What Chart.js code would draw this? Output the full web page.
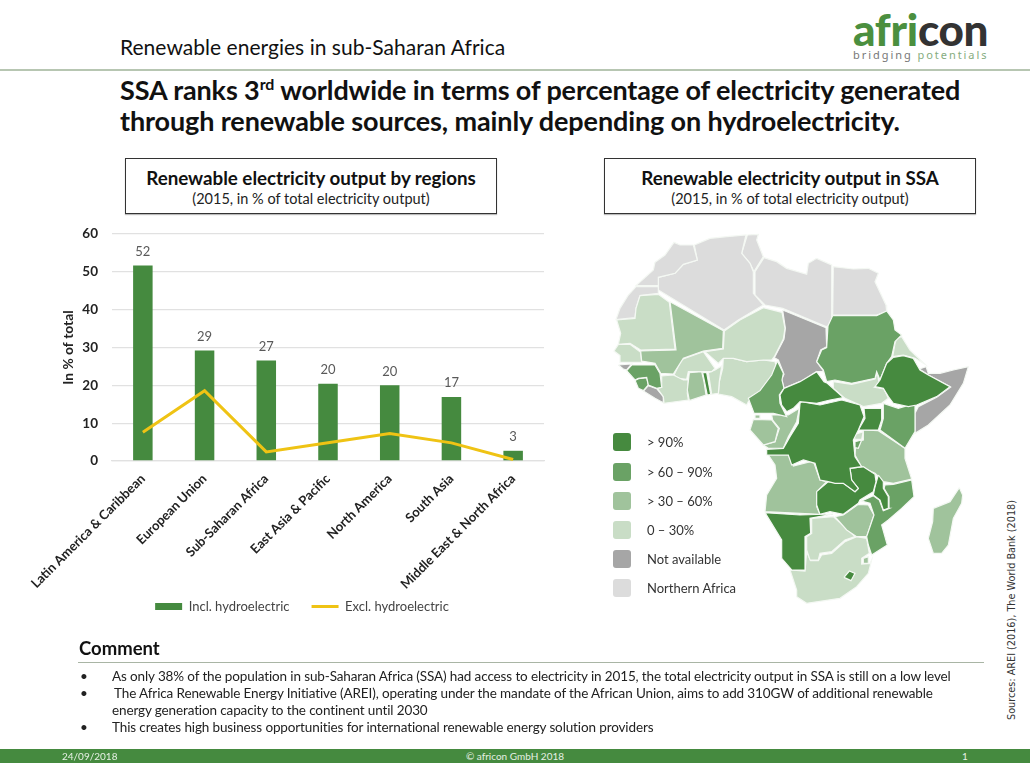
<!DOCTYPE html>
<html>
<head>
<meta charset="utf-8">
<title>Renewable energies in sub-Saharan Africa</title>
<script src="https://cdn.jsdelivr.net/npm/chart.js@4"></script>
<style>
  html, body { margin: 0; padding: 0; background: #fff; }
  body { width: 1030px; height: 773px; position: relative; overflow: hidden; font-family: Lato, sans-serif; color: #111; }
  .t { position: absolute; white-space: nowrap; }
  canvas { position: absolute; }
  .box { position: absolute; top: 158px; width: 370px; height: 54px; border: 1px solid #333; box-shadow: 0 1px 1px #bbb; text-align: center; }
  .box b { display: block; font-size: 18.8px; margin-top: 6px; line-height: 25px; letter-spacing: -0.02px; }
  .box span { display: block; font-size: 14.5px; line-height: 17px; color: #222; }
  .rule { position: absolute; background: #b7c6b2; }
  .sw { position: absolute; left: 613px; width: 18px; height: 18px; border-radius: 3px; }
  .lg { position: absolute; left: 647px; font-size: 13px; line-height: 16px; color: #333; white-space: nowrap; }
  .cm { font-size: 13.5px; line-height: 17px; color: #222; letter-spacing: -0.125px; }
</style>
</head>
<body>

<div class="t" style="left:120px;top:34px;font-size:21px;line-height:26px;letter-spacing:0.03px;">Renewable energies in sub-Saharan Africa</div>
<div class="rule" style="left:0;top:69px;width:1030px;height:2px;"></div>

<div class="t" style="left:853px;top:6px;font:900 44px/46px Lato;letter-spacing:-0.3px;color:#333;"><span style="color:#4b8f3f;">afri</span>con</div>
<div class="t" style="left:853px;top:48px;font:11px/14px 'Noto Sans';letter-spacing:1.95px;color:#777;">bridging <span style="color:#86ad80;">potentials</span></div>

<div class="t" style="left:120px;top:74px;font-size:27px;line-height:31px;font-weight:700;letter-spacing:-0.12px;">SSA ranks 3<sup style="font-size:16px;line-height:0;">rd</sup> worldwide in terms of percentage of electricity generated<br>through renewable sources, mainly depending on hydroelectricity.</div>

<div class="box" style="left:125px;"><b>Renewable electricity output by regions</b><span>(2015, in % of total electricity output)</span></div>
<div class="box" style="left:604px;"><b>Renewable electricity output in SSA</b><span>(2015, in % of total electricity output)</span></div>

<canvas id="barChart" style="left:0;top:212px;width:606px;height:428px;"></canvas>
<canvas id="mapChart" style="left:600px;top:225px;width:380px;height:385px;"></canvas>
<div id="mapLegend"></div>

<div class="t" style="left:79px;top:637px;font-size:18.5px;line-height:22px;font-weight:700;">Comment</div>
<div class="rule" style="left:78px;top:662px;width:906px;height:1px;background:#a9b5a5;"></div>
<div class="t cm" style="left:80px;top:668px;">•</div>
<div class="t cm" style="left:112px;top:668px;">As only 38% of the population in sub-Saharan Africa (SSA) had access to electricity in 2015, the total electricity output in SSA is still on a low level</div>
<div class="t cm" style="left:80px;top:685px;">•</div>
<div class="t cm" style="left:114px;top:685px;">The Africa Renewable Energy Initiative (AREI), operating under the mandate of the African Union, aims to add 310GW of additional renewable</div>
<div class="t cm" style="left:112px;top:702px;">energy generation capacity to the continent until 2030</div>
<div class="t cm" style="left:80px;top:719px;">•</div>
<div class="t cm" style="left:112px;top:719px;">This creates high business opportunities for international renewable energy solution providers</div>

<div class="t" style="left:1012px;top:610px;font:9.7px/12px 'DejaVu Sans';color:#333;transform:translate(-50%,-50%) rotate(-90deg);">Sources: AREI (2016), The World Bank (2018)</div>

<div style="position:absolute;left:0;top:749px;width:1030px;height:14px;background:#458a3f;"></div>
<div class="t" style="left:62px;top:749px;font-size:10px;line-height:14px;color:#e6f0e4;">24/09/2018</div>
<div class="t" style="left:515px;top:749px;font-size:10px;line-height:14px;color:#e6f0e4;transform:translateX(-50%);">© africon GmbH 2018</div>
<div class="t" style="left:962px;top:749px;font-size:10px;line-height:14px;color:#e6f0e4;">1</div>

<script>
// bar chart values
const regions = ['Latin America & Caribbean', 'European Union', 'Sub-Saharan Africa', 'East Asia & Pacific', 'North America', 'South Asia', 'Middle East & North Africa'];
const inclHydro = [51.7, 29.2, 26.6, 20.4, 20.0, 16.9, 2.7];
const exclHydro = [7.6, 18.6, 2.4, 4.8, 7.3, 4.8, 0.4];

// map outlines (map units, y down)
const westernSahara = [[108,185],[175,185],[175,205],[120,212],[108,250],[105,278],[48,284],[60,250],[85,210]];
const morocco = [[280,60],[292,105],[250,118],[225,145],[175,157],[175,182],[108,182],[160,135],[165,112],[195,90],[222,52],[240,60]];
const algeria = [[283,60],[330,40],[380,35],[438,30],[425,85],[450,115],[460,140],[460,205],[490,240],[415,285],[372,315],[175,195],[175,157],[225,145],[250,118],[292,105]];
const tunisia = [[442,30],[475,28],[470,45],[490,95],[462,140],[450,115],[425,85]];
const libya = [[492,98],[530,110],[560,130],[620,148],[625,115],[650,100],[695,120],[695,300],[678,305],[548,250],[495,240],[465,210],[465,140]];
const egypt = [[700,125],[760,132],[805,130],[835,145],[825,170],[858,240],[860,260],[830,270],[698,270]];
const sudan = [[698,272],[830,272],[860,258],[880,285],[885,315],[905,330],[885,350],[875,395],[860,415],[840,465],[830,440],[825,460],[755,475],[705,465],[680,470],[670,435],[650,410],[665,375],[680,368],[684,302]];
const eritrea = [[890,338],[905,335],[930,375],[975,418],[945,400],[910,390],[878,395],[885,355]];
const ethiopia = [[880,397],[910,392],[940,400],[960,435],[985,450],[1050,485],[1010,515],[950,540],[925,545],[880,535],[865,515],[850,490],[825,485],[840,465],[860,415]];
const somalia = [[958,432],[978,425],[985,445],[1020,445],[1060,435],[1105,425],[1090,475],[1050,540],[985,600],[945,625],[945,565],[955,545],[1010,517],[1052,486],[985,450]];
const chad = [[548,255],[678,308],[680,365],[662,375],[650,410],[672,440],[650,440],[620,460],[600,470],[552,490],[545,463],[552,448],[535,405],[523,398],[552,342],[556,310]];
const niger = [[490,248],[546,262],[555,310],[550,342],[523,395],[515,405],[490,405],[440,410],[400,400],[370,400],[355,415],[332,395],[315,380],[370,372],[373,318],[420,285]];
const mali = [[210,230],[370,317],[368,370],[310,378],[250,400],[220,447],[182,445],[165,415],[125,408],[122,378],[228,375]];
const mauritania = [[120,212],[175,208],[208,232],[225,372],[122,375],[90,355],[55,358],[62,325],[50,285],[105,280],[108,250]];
const senegal = [[55,358],[90,358],[122,382],[125,412],[62,412],[60,392],[42,378]];
const guineaBissau = [[55,420],[95,417],[80,435],[70,432]];
const guinea = [[95,420],[165,420],[180,445],[185,487],[170,490],[145,480],[140,457],[115,460],[105,465],[80,437]];
const sierraLeone = [[105,466],[116,461],[140,458],[145,480],[130,497],[115,490]];
const liberia = [[145,482],[170,491],[190,515],[190,533],[165,520],[130,498]];
const ivoryCoast = [[185,453],[220,450],[250,465],[265,465],[262,505],[265,525],[192,535],[190,515],[172,490],[185,487]];
const burkina = [[222,450],[245,403],[310,380],[345,430],[335,440],[265,440],[260,463],[235,460]];
const ghana = [[268,443],[305,440],[312,470],[318,510],[268,527],[262,495]];
const togo = [[308,443],[320,443],[332,508],[322,510]];
const benin = [[325,443],[345,435],[365,423],[358,470],[355,505],[335,508]];
const nigeria = [[370,400],[400,400],[440,410],[490,405],[525,410],[530,430],[510,465],[480,510],[445,530],[440,540],[395,515],[355,507],[358,470],[368,430]];
const cameroon = [[532,408],[550,445],[546,465],[552,490],[538,510],[540,535],[560,575],[520,565],[462,565],[445,520],[480,497],[515,450]];
const car = [[540,510],[552,490],[600,470],[650,440],[672,470],[682,475],[730,518],[690,525],[650,535],[600,530],[580,550],[560,560],[545,540]];
const southSudan = [[700,470],[755,478],[825,462],[832,440],[838,483],[825,487],[852,492],[865,520],[845,535],[790,545],[735,520],[700,490]];
const drc = [[605,530],[660,540],[725,525],[780,540],[792,575],[775,615],[760,645],[765,695],[785,725],[750,730],[755,765],[775,790],[765,800],[730,775],[705,775],[685,770],[660,765],[645,715],[610,705],[575,720],[565,690],[500,690],[500,673],[550,670],[570,635],[595,595],[600,535]];
const uganda = [[792,550],[845,550],[845,585],[835,615],[775,615],[795,580]];
const kenya = [[850,535],[895,550],[945,535],[945,620],[915,670],[840,615],[850,580]];
const rwanda = [[760,630],[790,620],[785,643],[765,643]];
const burundi = [[765,650],[785,645],[775,670],[765,668]];
const tanzania = [[790,615],[835,617],[915,670],[915,700],[935,762],[880,775],[850,770],[825,745],[785,727],[765,690],[768,650],[790,645]];
const eqGuinea = [[465,570],[480,570],[480,580],[465,580]];
const gabon = [[460,583],[515,585],[535,610],[525,650],[490,660],[450,615]];
const congo = [[515,570],[565,570],[598,550],[590,590],[565,635],[550,670],[505,670],[490,660],[525,650],[538,610],[518,585]];
const angola = [[505,690],[565,690],[580,723],[640,708],[660,765],[680,770],[650,800],[650,845],[660,868],[495,860],[500,810],[530,760],[525,720]];
const zambia = [[650,800],[685,770],[730,775],[765,800],[775,790],[755,765],[750,730],[790,725],[825,748],[828,770],[820,800],[780,825],[775,835],[730,868],[690,860],[660,868],[650,840]];
const malawi = [[835,750],[850,770],[850,790],[865,815],[865,850],[850,855],[840,825],[820,810],[825,785]];
const mozambique = [[880,778],[935,765],[942,815],[905,850],[865,885],[845,900],[862,960],[815,990],[805,960],[800,935],[822,870],[810,835],[785,828],[820,812],[838,825],[850,857],[868,850],[867,815],[852,790],[855,780]];
const zimbabwe = [[705,875],[730,870],[775,838],[805,840],[822,870],[800,935],[770,935],[740,915]];
const botswana = [[635,880],[700,875],[765,935],[735,945],[695,980],[660,985],[655,1005],[630,1005],[620,975],[620,935],[635,925]];
const namibia = [[495,863],[600,870],[700,867],[630,880],[632,925],[615,935],[615,1035],[575,1035],[545,1000],[545,945]];
const southAfrica = [[570,1035],[615,1038],[620,980],[632,1007],[655,1007],[665,990],[695,985],[735,950],[770,935],[800,940],[808,985],[785,1000],[785,1017],[810,1015],[815,1005],[805,1045],[770,1085],[720,1120],[620,1135],[590,1115],[590,1095]];
const swaziland = [[790,1000],[805,995],[805,1015],[790,1015]];
const lesotho = [[732,1057],[748,1038],[765,1045],[753,1067]];
const madagascar = [[1078,788],[1088,810],[1085,835],[1060,880],[1045,960],[1025,985],[1000,985],[985,940],[998,890],[1000,850],[1050,830]];

// which outline falls in which class
const over90 = [ethiopia, car, drc, uganda, zambia, malawi, namibia, togo, lesotho];
const over60 = [sudan, guinea, sierraLeone, cameroon, kenya, burundi, mozambique];
const over30 = [mali, ghana, eqGuinea, gabon, congo, tanzania, angola, zimbabwe, swaziland, madagascar];
const upTo30 = [eritrea, niger, mauritania, senegal, ivoryCoast, burkina, benin, nigeria, southSudan, rwanda, botswana, southAfrica];
const notAvailable = [somalia, chad, guineaBissau, liberia];
const northernAfrica = [westernSahara, morocco, algeria, tunisia, libya, egypt];

const mapClasses = ['> 90%', '> 60 – 90%', '> 30 – 60%', '0 – 30%', 'Not available', 'Northern Africa'];
const mapColors = ['#468a3f', '#6aa265', '#a0c39c', '#c9ddc6', '#a6a6a6', '#dcdcdc'];
const mapLegendTop = [433, 463, 492, 521, 550, 579];

const BAR_GREEN = '#458a3f';
const LINE_YELLOW = '#efc314';
const GRID_GREY = '#e1e1e1';

const barLabels = {
  id: 'barLabels',
  // the scale clips its tick labels at its own bottom, let the long ones run into the legend's band
  afterLayout(chart) {
    chart.scales.x.bottom = chart.height;
  },
  afterDatasetsDraw(chart) {
    const ctx = chart.ctx;
    const meta = chart.getDatasetMeta(0);
    ctx.save();
    ctx.font = '13px Lato';
    ctx.fillStyle = '#595959';
    ctx.textAlign = 'center';
    ctx.textBaseline = 'middle';
    meta.data.forEach((bar, i) => {
      ctx.fillText(String(Math.round(inclHydro[i])), bar.x, bar.y - 14);
    });
    ctx.restore();
  }
};

new Chart(document.getElementById('barChart'), {
  type: 'bar',
  plugins: [barLabels],
  data: {
    labels: regions,
    datasets: [
      { type: 'bar', label: 'Incl. hydroelectric', data: inclHydro, backgroundColor: BAR_GREEN, order: 2, pointStyle: 'rect',
        categoryPercentage: 1, barPercentage: 0.316 },
      { type: 'line', label: 'Excl. hydroelectric', data: exclHydro, borderColor: LINE_YELLOW, backgroundColor: LINE_YELLOW, borderWidth: 3,
        pointRadius: 0, tension: 0, fill: false, order: 1, pointStyle: 'line' }
    ]
  },
  options: {
    animation: false,
    responsive: false,
    layout: { padding: { left: 60, right: 62, top: 12.7, bottom: 17 } },
    plugins: {
      tooltip: { enabled: false },
      legend: {
        position: 'bottom',
        labels: {
          usePointStyle: true, pointStyleWidth: 27, boxHeight: 7, padding: 22,
          sort: (a, b) => a.datasetIndex - b.datasetIndex,
          color: '#444', font: { family: 'Lato', size: 13 }
        }
      }
    },
    scales: {
      x: {
        grid: { display: false },
        border: { color: GRID_GREY, width: 1.3 },
        afterFit(scale) { scale.height = 117; },
        ticks: { minRotation: 45, maxRotation: 45, padding: 2, autoSkip: false, color: '#222', font: { family: 'Lato', size: 13, weight: 'bold' } }
      },
      y: {
        min: 0, max: 60,
        afterFit(scale) { scale.width = 52; },
        border: { display: false },
        grid: { color: GRID_GREY, lineWidth: 1.3, drawTicks: false },
        title: { display: true, text: 'In % of total', padding: 0, color: '#222', font: { family: 'Lato', size: 13.8, weight: 'bold' } },
        ticks: { stepSize: 10, padding: 14, color: '#222', font: { family: 'Lato', size: 13.5, weight: 'bold' } }
      }
    }
  }
});

// one filled line per country, through the chart's own linear scales
const mapDatasets = [];
[over90, over60, over30, upTo30, notAvailable, northernAfrica].forEach((group, c) => {
  group.forEach(outline => {
    mapDatasets.push({
      data: outline.concat([outline[0]]).map(p => ({ x: p[0], y: p[1] })),
      showLine: true,
      fill: 'shape',
      backgroundColor: mapColors[c],
      borderColor: '#f4f8f3',
      borderWidth: 1.2,
      tension: 0,
      pointRadius: 0
    });
  });
});

new Chart(document.getElementById('mapChart'), {
  type: 'scatter',
  data: { datasets: mapDatasets },
  options: {
    animation: false,
    responsive: false,
    layout: { padding: 0 },
    plugins: { legend: { display: false }, tooltip: { enabled: false } },
    scales: {
      x: { display: false, min: 0, max: 1140 },
      y: { display: false, min: 0, max: 1155, reverse: true }
    }
  }
});

document.getElementById('mapLegend').innerHTML = mapClasses.map((name, i) =>
  '<div class="sw" style="top:' + mapLegendTop[i] + 'px;background:' + mapColors[i] + ';"></div>' +
  '<div class="lg" style="top:' + (mapLegendTop[i] + 1) + 'px;">' + name + '</div>'
).join('');
</script>
</body>
</html>
